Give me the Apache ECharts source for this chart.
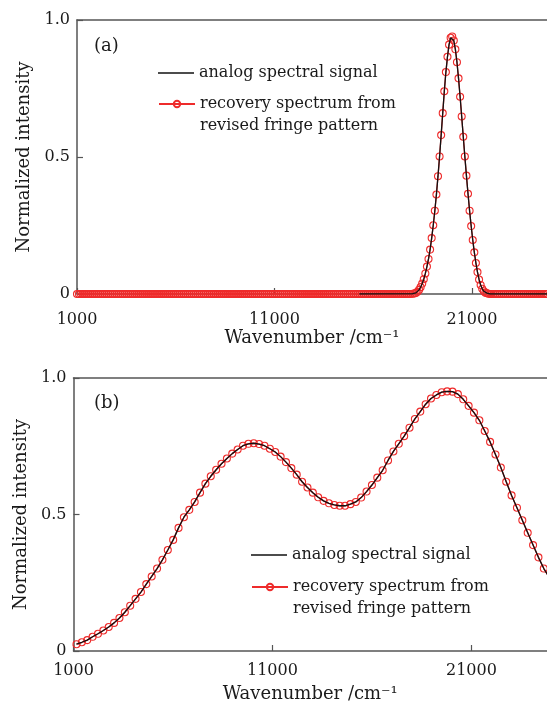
<!DOCTYPE html>
<html>
<head>
<meta charset="utf-8">
<title>Spectrum recovery</title>
<script src="https://cdn.jsdelivr.net/npm/echarts/dist/echarts.min.js"></script>
<style>
  html, body { margin: 0; padding: 0; background: #fff; }
  #chart { width: 547px; height: 704px; }
</style>
</head>
<body>
<div id="chart"></div>
<script>
// ---- data ----
const xTicks = [1000, 11000, 21000];
const yTicks = [0, 0.5, 1.0];

// (a) narrow band: red samples lying on the zero baseline
const topZeroLeft = [
  1000, 1100, 1200, 1300, 1400, 1500, 1600, 1700, 1800, 1900,
  2000, 2100, 2200, 2300, 2400, 2500, 2600, 2700, 2800, 2900,
  3000, 3100, 3200, 3300, 3400, 3500, 3600, 3700, 3800, 3900,
  4000, 4100, 4200, 4300, 4400, 4500, 4600, 4700, 4800, 4900,
  5000, 5100, 5200, 5300, 5400, 5500, 5600, 5700, 5800, 5900,
  6000, 6100, 6200, 6300, 6400, 6500, 6600, 6700, 6800, 6900,
  7000, 7100, 7200, 7300, 7400, 7500, 7600, 7700, 7800, 7900,
  8000, 8100, 8200, 8300, 8400, 8500, 8600, 8700, 8800, 8900,
  9000, 9100, 9200, 9300, 9400, 9500, 9600, 9700, 9800, 9900,
  10000, 10100, 10200, 10300, 10400, 10500, 10600, 10700, 10800, 10900,
  11000, 11100, 11200, 11300, 11400, 11500, 11600, 11700, 11800, 11900,
  12000, 12100, 12200, 12300, 12400, 12500, 12600, 12700, 12800, 12900,
  13000, 13100, 13200, 13300, 13400, 13500, 13600, 13700, 13800, 13900,
  14000, 14100, 14200, 14300, 14400, 14500, 14600, 14700, 14800, 14900,
  15000, 15100, 15200, 15300, 15400, 15500, 15600, 15700, 15800, 15900,
  16000, 16100, 16200, 16300, 16400, 16500, 16600, 16700, 16800, 16900,
  17000, 17100, 17200, 17300, 17400, 17500, 17600, 17700, 17800, 17900
];
const topZeroRight = [
  22000, 22100, 22200, 22300, 22400, 22500, 22600, 22700, 22800, 22900,
  23000, 23100, 23200, 23300, 23400, 23500, 23600, 23700, 23800, 23900,
  24000, 24100, 24200, 24300, 24400, 24500, 24600, 24700, 24800
];
// (a) the peak itself
const topPeakWave = [
  18000, 18080, 18160, 18240, 18320, 18400, 18480, 18560, 18640, 18720,
  18800, 18880, 18960, 19040, 19120, 19200, 19280, 19360, 19440, 19520,
  19600, 19680, 19760, 19840, 19920, 20000, 20080, 20160, 20240, 20320,
  20400, 20480, 20560, 20640, 20720, 20800, 20880, 20960, 21040, 21120,
  21200, 21280, 21360, 21440, 21520, 21600, 21680, 21760, 21840, 21920
];
const topPeakValue = [
  0.001, 0.002, 0.004, 0.008, 0.015, 0.025, 0.038, 0.054, 0.075, 0.100,
  0.128, 0.162, 0.204, 0.251, 0.304, 0.363, 0.430, 0.502, 0.580, 0.660,
  0.740, 0.810, 0.866, 0.910, 0.935, 0.940, 0.925, 0.893, 0.846, 0.787,
  0.720, 0.648, 0.574, 0.502, 0.432, 0.366, 0.304, 0.248, 0.197, 0.152,
  0.113, 0.080, 0.053, 0.033, 0.019, 0.010, 0.005, 0.003, 0.001, 0
];
// (a) black analog line: flat zero from here, and to the right edge
const topAnalogFlat = [15300, 24800];

// (b) broad two-band spectrum
const bottomWave = [
  1150, 1420, 1690, 1960, 2230, 2500, 2770, 3040, 3310, 3580,
  3850, 4120, 4390, 4660, 4930, 5200, 5470, 5740, 6010, 6280,
  6550, 6820, 7090, 7360, 7630, 7900, 8170, 8440, 8710, 8980,
  9250, 9520, 9790, 10060, 10330, 10600, 10870, 11140, 11410, 11680,
  11950, 12220, 12490, 12760, 13030, 13300, 13570, 13840, 14110, 14380,
  14650, 14920, 15190, 15460, 15730, 16000, 16270, 16540, 16810, 17080,
  17350, 17620, 17890, 18160, 18430, 18700, 18970, 19240, 19510, 19780,
  20050, 20320, 20590, 20860, 21130, 21400, 21670, 21940, 22210, 22480,
  22750, 23020, 23290, 23560, 23830, 24100, 24370, 24640, 24910
];
const bottomValue = [
  0.025, 0.032, 0.040, 0.052, 0.063, 0.075, 0.088, 0.103, 0.121, 0.142,
  0.166, 0.191, 0.216, 0.245, 0.273, 0.302, 0.334, 0.370, 0.407, 0.451,
  0.490, 0.517, 0.546, 0.580, 0.613, 0.640, 0.664, 0.686, 0.705, 0.723,
  0.738, 0.752, 0.759, 0.761, 0.758, 0.752, 0.741, 0.729, 0.712, 0.692,
  0.670, 0.646, 0.620, 0.599, 0.580, 0.563, 0.550, 0.541, 0.535, 0.532,
  0.532, 0.538, 0.546, 0.562, 0.584, 0.608, 0.635, 0.662, 0.698, 0.731,
  0.759, 0.787, 0.818, 0.850, 0.877, 0.904, 0.925, 0.938, 0.948, 0.951,
  0.950, 0.941, 0.922, 0.898, 0.873, 0.845, 0.806, 0.766, 0.720, 0.672,
  0.620, 0.570, 0.525, 0.479, 0.433, 0.388, 0.343, 0.302, 0.270
];

const ANALOG = 'analog spectral signal';
const RECOVERY = 'recovery spectrum from';

// ---- build series data ----
const peakPairs = topPeakWave.map((w, i) => [w, topPeakValue[i]]);
const topRedData = topZeroLeft.map(w => [w, 0])
  .concat(peakPairs)
  .concat(topZeroRight.map(w => [w, 0]));
const topBlackData = [[topAnalogFlat[0], 0]].concat(peakPairs).concat([[topAnalogFlat[1], 0]]);
const bottomData = bottomWave.map((w, i) => [w, bottomValue[i]]);

const SERIF = '"DejaVu Serif", serif';
const RED = '#ee2b2b';
const AXIS = '#555';
const INK = '#1a1a1a';

const chart = echarts.init(document.getElementById('chart'));

const xAxisFor = (gridIndex, labelMargin) => ({
  gridIndex,
  type: 'value',
  min: xTicks[0],
  max: 24800,
  interval: xTicks[1] - xTicks[0],
  name: 'Wavenumber /cm\u207B\u00B9',
  nameLocation: 'middle',
  nameGap: 34,
  nameTextStyle: { fontFamily: SERIF, fontSize: 18, color: INK },
  axisLine: { show: true, lineStyle: { color: AXIS, width: 1.5 } },
  axisTick: { show: true, inside: true, length: 6, lineStyle: { color: AXIS, width: 1.2 } },
  axisLabel: {
    showMaxLabel: false, margin: labelMargin,
    fontFamily: SERIF, fontSize: 16, color: INK,
    formatter: v => String(v)
  },
  splitLine: { show: false }
});

const topFrame = (gridIndex) => ({
  gridIndex,
  type: 'value',
  position: 'top',
  min: xTicks[0],
  max: 24800,
  axisLine: { show: true, lineStyle: { color: AXIS, width: 1.5 } },
  axisTick: { show: false },
  axisLabel: { show: false },
  splitLine: { show: false }
});

const yAxisFor = (gridIndex, nameGap) => ({
  gridIndex,
  type: 'value',
  min: yTicks[0],
  max: yTicks[2],
  interval: yTicks[1],
  name: 'Normalized intensity',
  nameLocation: 'middle',
  nameGap,
  nameTextStyle: { fontFamily: SERIF, fontSize: 18, color: INK },
  axisLine: { show: true, lineStyle: { color: AXIS, width: 1.5 } },
  axisTick: { show: true, inside: true, length: 6, lineStyle: { color: AXIS, width: 1.2 } },
  axisLabel: {
    margin: 7, fontFamily: SERIF, fontSize: 16, color: INK,
    formatter: v => (v === 0 ? '0' : v.toFixed(1))
  },
  splitLine: { show: false }
});

const redSeries = (idx, data) => ({
  name: RECOVERY,
  type: 'line',
  xAxisIndex: idx,
  yAxisIndex: idx,
  data,
  symbol: 'circle',
  symbolSize: 7,
  itemStyle: { color: 'rgba(0,0,0,0)', borderColor: RED, borderWidth: 1.1 },
  lineStyle: { color: RED, width: 1.3 },
  emphasis: { disabled: true },
  z: 2
});

const blackSeries = (idx, data) => ({
  name: ANALOG,
  type: 'line',
  xAxisIndex: idx,
  yAxisIndex: idx,
  data,
  symbol: 'none',
  itemStyle: { color: '#111' },
  lineStyle: { color: '#111', width: 1.3 },
  emphasis: { disabled: true },
  z: 3
});

const legendText = { fontFamily: SERIF, fontSize: 16, color: INK, lineHeight: 22 };
const legendPair = (left, topBlack, topRed) => [
  {
    // plain line sample, no marker
    data: [{ name: ANALOG, icon: 'rect' }], orient: 'vertical', left, top: topBlack, padding: 0,
    itemWidth: 36, itemHeight: 1.6, selectedMode: false, textStyle: legendText,
    itemStyle: { color: '#111', borderWidth: 0 }
  },
  {
    // blank first line keeps the icon level with "recovery spectrum from"
    data: [RECOVERY], orient: 'vertical', left, top: topRed, padding: 0,
    itemWidth: 36, itemHeight: 8, selectedMode: false, textStyle: legendText,
    formatter: name => '\n' + name + '\nrevised fringe pattern'
  }
];

const option = {
  animation: false,
  backgroundColor: '#fff',
  grid: [
    { left: 77, right: 0, top: 20, height: 274 },
    { left: 73.5, right: 0, top: 378, height: 276 }
  ],
  xAxis: [xAxisFor(0, 18), xAxisFor(1, 12), topFrame(0), topFrame(1)],
  yAxis: [yAxisFor(0, 40), yAxisFor(1, 43)],
  legend: legendPair(158, 62, 71).concat(legendPair(251, 544, 554)),
  graphic: [
    { type: 'text', left: 94, top: 37, style: { text: '(a)', font: '18px ' + SERIF, fill: INK } },
    { type: 'text', left: 94, top: 394, style: { text: '(b)', font: '18px ' + SERIF, fill: INK } }
  ],
  series: [
    redSeries(0, topRedData),
    blackSeries(0, topBlackData),
    redSeries(1, bottomData),
    blackSeries(1, bottomData)
  ]
};

chart.setOption(option);
</script>
</body>
</html>
